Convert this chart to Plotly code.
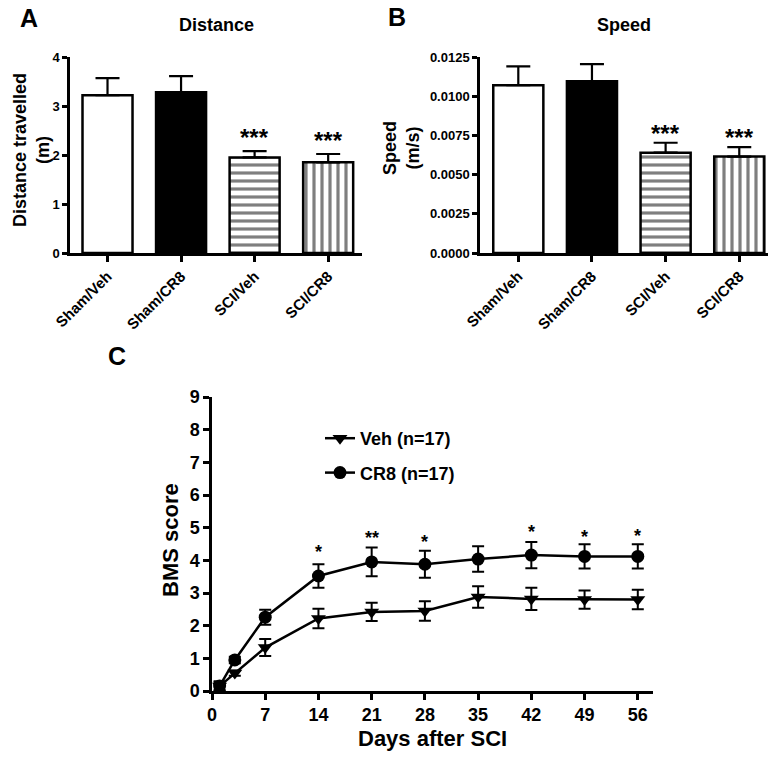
import plotly.graph_objects as go

# ---------------- data ----------------
groups = ["Sham/Veh", "Sham/CR8", "SCI/Veh", "SCI/CR8"]
distance_mean = [3.22, 3.28, 1.95, 1.85]
distance_sem = [0.35, 0.33, 0.13, 0.17]
speed_mean = [0.0107, 0.01095, 0.0064, 0.00615]
speed_sem = [0.0012, 0.0011, 0.00063, 0.0006]
bar_sig = ["", "", "***", "***"]

days = [1, 3, 7, 14, 21, 28, 35, 42, 49, 56]
veh_mean = [0.15, 0.55, 1.33, 2.22, 2.42, 2.45, 2.88, 2.82, 2.80, 2.80]
veh_sem = [0.12, 0.08, 0.26, 0.30, 0.28, 0.30, 0.33, 0.34, 0.28, 0.30]
cr8_mean = [0.15, 0.95, 2.26, 3.52, 3.95, 3.88, 4.04, 4.16, 4.12, 4.12]
cr8_sem = [0.15, 0.10, 0.23, 0.36, 0.44, 0.41, 0.39, 0.40, 0.37, 0.37]
sig_days = [14, 21, 28, 42, 49, 56]
sig_labels = ["*", "**", "*", "*", "*", "*"]
sig_y = [4.40, 4.83, 4.71, 5.02, 4.86, 4.90]
day_ticks = [0, 7, 14, 21, 28, 35, 42, 49, 56]

FONT = "Liberation Sans, Arial, sans-serif"
BLACK = "black"

W, H = 780, 758


def px(x):
    return x / W


def py(y):
    return 1 - y / H


fig = go.Figure()

bar_colors = ["white", "black", "white", "white"]
bar_patterns = ["", "", "-", "|"]


def add_bars(y, err, xa, ya):
    for i, g in enumerate(groups):
        marker = dict(color=bar_colors[i], line=dict(color=BLACK, width=2.5))
        if bar_patterns[i]:
            marker["pattern"] = dict(shape=bar_patterns[i], fgcolor=BLACK,
                                     bgcolor="white", size=8, solidity=0.4,
                                     fillmode="overlay")
        fig.add_trace(go.Bar(
            x=[g], y=[y[i]], xaxis=xa, yaxis=ya, width=0.68,
            marker=marker,
            error_y=dict(type="data", array=[err[i]], arrayminus=[0], symmetric=False,
                         color=BLACK, thickness=2.2, width=12),
            showlegend=False,
        ))


add_bars(distance_mean, distance_sem, "x", "y")
add_bars(speed_mean, speed_sem, "x2", "y2")

fig.add_trace(go.Scatter(
    x=days, y=veh_mean, xaxis="x3", yaxis="y3", mode="lines+markers",
    name="Veh (n=17)", legendgroup="a",
    line=dict(color=BLACK, width=2.5),
    marker=dict(symbol="triangle-down", size=13, color=BLACK),
    error_y=dict(type="data", array=veh_sem, color=BLACK, thickness=2, width=6),
    cliponaxis=False,
))
fig.add_trace(go.Scatter(
    x=days, y=cr8_mean, xaxis="x3", yaxis="y3", mode="lines+markers",
    name="CR8 (n=17)", legendgroup="b",
    line=dict(color=BLACK, width=2.5),
    marker=dict(symbol="circle", size=13, color=BLACK),
    error_y=dict(type="data", array=cr8_sem, color=BLACK, thickness=2, width=6),
    cliponaxis=False,
))

axis_common = dict(showline=True, linecolor=BLACK, linewidth=2.5, ticks="outside",
                   tickcolor=BLACK, tickwidth=2.5, showgrid=False, zeroline=False,
                   fixedrange=True, automargin=False)
small_tick = dict(family=FONT, size=13, color=BLACK, weight="bold")
cat_tick = dict(family=FONT, size=15, color=BLACK, weight="bold")
big_tick = dict(family=FONT, size=18, color=BLACK, weight="bold")

fig.update_layout(
    width=W, height=H,
    margin=dict(l=0, r=0, t=0, b=0, pad=0, autoexpand=False),
    paper_bgcolor="white", plot_bgcolor="white",
    font=dict(family=FONT, color=BLACK),
    barmode="overlay",
    xaxis=dict(domain=[px(70), px(362)], anchor="y", type="category",
               categoryorder="array", categoryarray=groups,
               range=[-0.51, 3.46], tickangle=-45, ticklen=6,
               tickfont=cat_tick, **axis_common),
    yaxis=dict(domain=[py(253), py(57)], anchor="x", range=[0, 4],
               dtick=1, ticklen=5, tickfont=small_tick, **axis_common),
    xaxis2=dict(domain=[px(480), px(768)], anchor="y2", type="category",
                categoryorder="array", categoryarray=groups,
                range=[-0.52, 3.39], tickangle=-45, ticklen=6,
                tickfont=cat_tick, **axis_common),
    yaxis2=dict(domain=[py(253), py(57)], anchor="x2", range=[0, 0.0125],
                dtick=0.0025, tickformat=".4f", ticklen=5, tickfont=small_tick,
                **axis_common),
    xaxis3=dict(domain=[px(212), px(653)], anchor="y3", range=[0, 58],
                tickvals=day_ticks, ticklen=6, tickfont=big_tick, **axis_common),
    yaxis3=dict(domain=[py(691), py(397)], anchor="x3", range=[0, 9],
                dtick=1, ticklen=6, tickfont=big_tick, **axis_common),
    legend=dict(x=px(320), y=py(420), xanchor="left", yanchor="top",
                font=dict(family=FONT, size=18, color=BLACK, weight="bold"),
                bgcolor="rgba(0,0,0,0)", tracegroupgap=8, itemwidth=30),
    showlegend=True,
)

ann = []


def txt(x, y, text, size, xref="paper", yref="paper", angle=0, **kw):
    if xref == "paper":
        x = px(x)
    if yref == "paper":
        y = py(y)
    kw.setdefault("xanchor", "center")
    kw.setdefault("yanchor", "middle")
    ann.append(dict(x=x, y=y, xref=xref, yref=yref, text=text, showarrow=False,
                    textangle=angle,
                    font=dict(family=FONT, size=size, color=BLACK, weight="bold"), **kw))


# panel letters and titles
txt(29, 18, "A", 25)
txt(397, 17, "B", 25)
txt(117, 356, "C", 25)
txt(216, 25, "Distance", 18)
txt(624, 25, "Speed", 18)
# y titles
txt(31, 150, "Distance travelled<br>(m)", 18, angle=-90)
txt(402, 148, "Speed<br>(m/s)", 18, angle=-90)
txt(170, 540, "BMS score", 22, angle=-90)
txt(432, 738, "Days after SCI", 22)

# significance markers on bars
for g, m, e, s in zip(groups, distance_mean, distance_sem, bar_sig):
    if s:
        txt(g, m + e, s, 24, xref="x", yref="y", yanchor="bottom", yshift=-2)
for g, m, e, s in zip(groups, speed_mean, speed_sem, bar_sig):
    if s:
        txt(g, m + e, s, 24, xref="x2", yref="y2", yanchor="bottom", yshift=-6)
for d, s, yv in zip(sig_days, sig_labels, sig_y):
    txt(d, yv, s, 18, xref="x3", yref="y3", yshift=-5)

fig.update_layout(annotations=ann)

# remove the browser's default 8px body margin so the figure fills the window
fig.write_html("out.html", config={"displayModeBar": False},
               post_script="document.body.style.margin='0';")
